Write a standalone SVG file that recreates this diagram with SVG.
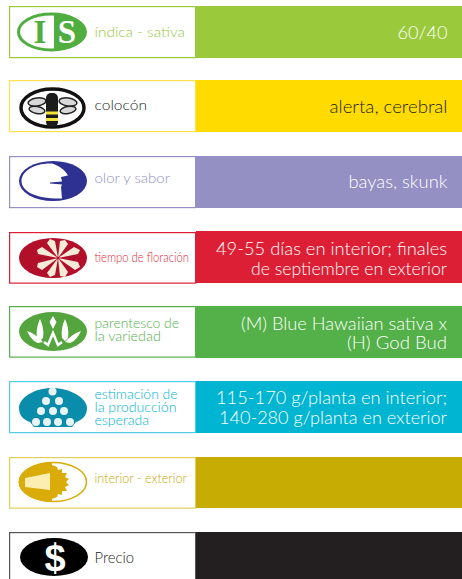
<svg xmlns="http://www.w3.org/2000/svg" width="462" height="579" viewBox="0 0 462 579">
<style>
text{font-family:"Lato","Open Sans","Liberation Sans",sans-serif;font-weight:300}
.l{font-size:14px}
.r{font-size:18.5px;fill:#fff;text-anchor:end;font-weight:300}
.b{fill:#fff;stroke-width:1.2}
.s{font-family:"Liberation Serif",serif;font-weight:700}
</style>
<rect width="462" height="579" fill="#fff"/>
<g id="row-indica">
<rect class="b" x="9.6" y="6.6" width="186" height="51" stroke="#9aca3c"/>
<rect x="196" y="6" width="266" height="52" fill="#9aca3c"/>
<ellipse cx="51.500" cy="32" rx="33" ry="18" fill="#fff" stroke="#4fae3f" stroke-width="3"/>
<path d="M54 13.500A33 18.500 0 0 1 54 50.500Z" fill="#4fae3f"/>
<text class="s" x="40" y="42.500" font-size="33" text-anchor="middle" fill="#4fae3f">I</text>
<text class="s" x="67" y="42.500" font-size="33" text-anchor="middle" fill="#fff">S</text>
<text class="l" x="94.500" y="37" fill="#95c93d" textLength="90.500" lengthAdjust="spacingAndGlyphs">índica - sativa</text>
<text class="r" x="447.500" y="39" textLength="50" lengthAdjust="spacingAndGlyphs">60/40</text>
</g>
<g id="row-colocon">
<rect class="b" x="9.6" y="80.600" width="186" height="51" stroke="#ffe14d"/>
<rect x="196" y="80" width="266" height="52" fill="#ffdb00"/>
<ellipse cx="52.500" cy="108" rx="31.500" ry="19" fill="#fff" stroke="#111" stroke-width="3.500"/>
<g fill="#d8d8d8" stroke="#222" stroke-width="1.500">
<ellipse cx="37" cy="102" rx="9" ry="4" transform="rotate(-8 37 102)"/>
<ellipse cx="68" cy="102" rx="9" ry="4" transform="rotate(8 68 102)"/>
<ellipse cx="37" cy="110" rx="8" ry="3.500" transform="rotate(10 37 110)"/>
<ellipse cx="68" cy="110" rx="8" ry="3.500" transform="rotate(-10 68 110)"/>
</g>
<rect x="46" y="93" width="12" height="34" rx="5" fill="#1c1c1c"/>
<rect x="46" y="111.500" width="12" height="3" fill="#f3e23a"/>
<rect x="46" y="118" width="12" height="3" fill="#f3e23a"/>
<text class="l" x="94.500" y="110" fill="#231f20" textLength="52.500" lengthAdjust="spacingAndGlyphs">colocón</text>
<text class="r" x="447.500" y="113" style="fill:#231f20" textLength="118" lengthAdjust="spacingAndGlyphs">alerta, cerebral</text>
</g>
<g id="row-olor">
<rect class="b" x="9.6" y="156.600" width="186" height="51" stroke="#9490c4"/>
<rect x="196" y="156" width="266" height="52" fill="#9490c4"/>
<ellipse cx="53" cy="181" rx="34" ry="20" fill="#2e3192"/>
<path d="M52 163.500C33 163 21.500 172 21.500 181C21.500 191 35 199 62 198.500L61 187L62 184.500L50 183.500L50 182.500L62 181.500L61 177L68 175.500C65 170 60 166 52 163.500Z" fill="#fff"/>
<text class="l" x="94.500" y="183" fill="#9490c4" textLength="75.500" lengthAdjust="spacingAndGlyphs">olor y sabor</text>
<text class="r" x="447.500" y="188" textLength="99" lengthAdjust="spacingAndGlyphs">bayas, skunk</text>
</g>
<g id="row-tiempo">
<rect class="b" x="9.6" y="232.600" width="186" height="50.500" stroke="#dc1f34"/>
<rect x="196" y="231" width="266" height="52" fill="#dc1f34"/>
<ellipse cx="53" cy="258" rx="34" ry="20" fill="#b2102a"/>
<g fill="#f4ead8">
<path d="M58 258L47 243L50 239L55 241ZM58 258L60 241L65 240L68 244ZM58 258L74 247L80 250L78 254ZM58 258L78 262L80 267L75 270ZM58 258L68 272L65 277L60 276ZM58 258L55 275L50 277L47 273ZM58 258L42 270L37 267L38 263ZM58 258L38 254L37 250L42 247Z"/>
</g>
<circle cx="58" cy="258" r="1.500" fill="#b2102a"/>
<text x="94.500" y="262" font-size="14" fill="#dc1f34" textLength="94.500" lengthAdjust="spacingAndGlyphs">tiempo de floración</text>
<text class="r" x="447" y="255" textLength="231" lengthAdjust="spacingAndGlyphs">49-55 días en interior; finales</text>
<text class="r" x="447" y="275" textLength="196" lengthAdjust="spacingAndGlyphs">de septiembre en exterior</text>
</g>
<g id="row-parentesco">
<rect class="b" x="9.6" y="306.600" width="186" height="50.500" stroke="#54b149"/>
<rect x="196" y="306" width="266" height="52" fill="#54b149"/>
<ellipse cx="53" cy="331.500" rx="34" ry="19.500" fill="#55a53f"/>
<path d="M53 316l3.500 6-3.500 7-3.500-7zM40 319c3 6 4 13 3 19l-3 3-3-3c-1-6 0-13 3-19zM65 319c3 6 4 13 3 19l-3 3-3-3c-1-6 0-13 3-19zM27 331c6 2 12 6 16 11l-5 1c-5-2-8-6-11-12zM81 331c-3 6-6 10-11 12l-5-1c4-5 10-9 16-11z" fill="#fff"/>
<path d="M44 342L48 345L53 333L58 345L62 342" fill="none" stroke="#fff" stroke-width="2.500"/>
<text class="l" x="94.500" y="327.500" fill="#54b149" textLength="84.500" lengthAdjust="spacingAndGlyphs">parentesco de</text>
<text class="l" x="94.500" y="340.500" fill="#54b149" textLength="66.500" lengthAdjust="spacingAndGlyphs">la variedad</text>
<text class="r" x="447" y="330" textLength="206" lengthAdjust="spacingAndGlyphs">(M) Blue Hawaiian sativa x</text>
<text class="r" x="447" y="349" textLength="100" lengthAdjust="spacingAndGlyphs">(H) God Bud</text>
</g>
<g id="row-estimacion">
<rect class="b" x="9.6" y="381.600" width="186" height="51" stroke="#4fcde3"/>
<rect x="196" y="381" width="266" height="52" fill="#00b5d1"/>
<path d="M52 388C70 388 87 398 87 408C87 416 82 420 76 422L72 427L34 427L30 422C24 420 19 416 19 408C19 398 34 388 52 388Z" fill="#0a8cab"/>
<g fill="#e8f3f3"><circle cx="52.500" cy="391.500" r="4"/><circle cx="46" cy="401" r="4"/><circle cx="59" cy="401" r="4"/><circle cx="41" cy="411" r="4"/><circle cx="53" cy="411" r="4"/><circle cx="64" cy="411" r="4"/><circle cx="36" cy="422" r="4"/><circle cx="47" cy="422" r="4"/><circle cx="58" cy="422" r="4"/><circle cx="70" cy="422" r="4"/></g>
<text class="l" x="94.500" y="399" fill="#00b5d1" textLength="83" lengthAdjust="spacingAndGlyphs">estimación de</text>
<text class="l" x="94.500" y="412" fill="#00b5d1" textLength="82" lengthAdjust="spacingAndGlyphs">la producción</text>
<text class="l" x="94.500" y="424.500" fill="#00b5d1" textLength="54.500" lengthAdjust="spacingAndGlyphs">esperada</text>
<text class="r" x="447" y="404" textLength="231" lengthAdjust="spacingAndGlyphs">115-170 g/planta en interior;</text>
<text class="r" x="447" y="424" textLength="228" lengthAdjust="spacingAndGlyphs">140-280 g/planta en exterior</text>
</g>
<g id="row-interior">
<rect class="b" x="9.6" y="457.600" width="186" height="50.500" stroke="#e0cd5e"/>
<rect x="196" y="457" width="266" height="51" fill="#c7ac04"/>
<ellipse cx="53" cy="482" rx="33.500" ry="19.500" fill="#fff" stroke="#d9ac0a" stroke-width="1.500"/>
<path d="M52 462.500A33.500 19.500 0 0 0 52 501.500Z" fill="#d9ac0a"/>
<path d="M52 465L57 467L58 470L62 469L62 473L67 473L65 477L69 479L66 482L69 485L65 487L67 491L62 491L62 495L58 494L57 497L52 499Z" fill="#d9ac0a"/>
<path d="M25 478L50 473L50 490L25 487Z" fill="#fbeeb0"/>
<text class="l" x="94.500" y="483" fill="#c7ac04" textLength="92.500" lengthAdjust="spacingAndGlyphs">interior - exterior</text>
</g>
<g id="row-precio">
<rect class="b" x="9.6" y="532.600" width="186" height="50" stroke="#555"/>
<rect x="196" y="532" width="266" height="47" fill="#231f20"/>
<ellipse cx="54" cy="557" rx="34" ry="19" fill="#000"/>
<text x="55" y="571" font-size="38" text-anchor="middle" fill="#fff" style="font-family:'Liberation Sans',sans-serif;font-weight:700">$</text>
<text x="94.500" y="563" font-size="15" fill="#231f20" textLength="39.500" lengthAdjust="spacingAndGlyphs">Precio</text>
</g>
</svg>
